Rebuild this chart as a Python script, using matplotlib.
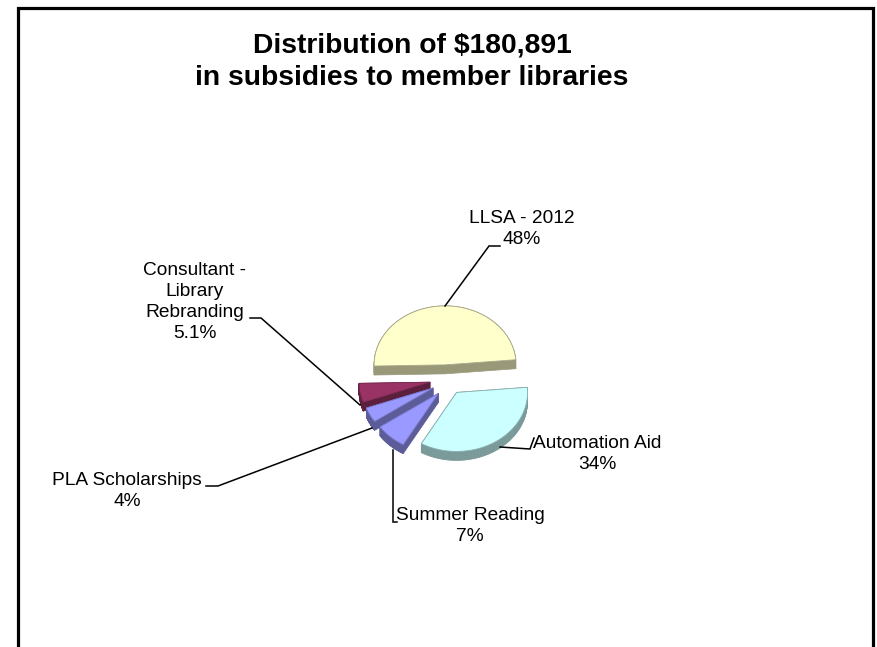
import numpy as np
import matplotlib
matplotlib.use("Agg")
import matplotlib.pyplot as plt
from matplotlib.patches import Polygon

categories = ["LLSA - 2012", "Consultant -\nLibrary\nRebranding", "PLA Scholarships", "Summer Reading", "Automation Aid"]
values = [48, 5.1, 4, 7, 34]
value_labels = ["48%", "5.1%", "4%", "7%", "34%"]

top_colors = ["#FFFFCC", "#993366", "#9999FF", "#9999FF", "#CCFFFF"]
side_colors = ["#99997A", "#5C1F3D", "#5C5C99", "#5C5C99", "#7A9999"]
edge_colors = ["#A8A88A", "#7A2952", "#7A7ACC", "#7A7ACC", "#8AB0B0"]
explode = [0.24, 0.2, 0.22, 0.24, 0.25]
nudge_x = [0, -2, 1, 4, 1]
nudge_y = [0, 1, 3, 4, 1]

CX, CY, RX, RY, DEPTH = 446, 379, 71, 59, 9
START = 5.0

label_pos = [(521.5, 229), (195, 302), (127, 491), (470, 526), (597, 454)]
leaders = [
    [(445, 306), (489, 246), (500, 246)],
    [(360, 405), (261, 318), (250, 318)],
    [(372, 428), (218, 486), (206, 486)],
    [(393, 450), (393, 522), (397, 522)],
    [(500, 447), (530, 449), (534, 438)],
]

plt.rcParams["font.family"] = ["Liberation Sans", "DejaVu Sans"]
fig = plt.figure(figsize=(8.78, 6.47), dpi=100, facecolor="white")
ax = fig.add_axes([0, 0, 1, 1])
ax.set_xlim(0, 878)
ax.set_ylim(647, 0)
ax.axis("off")

# frame, open at the bottom
ax.plot([18.5, 18.5, 873.5, 873.5], [647, 7.5, 7.5, 647], color="black", lw=2.3,
        solid_joinstyle="miter", solid_capstyle="butt")

ax.text(412, 61.5, "Distribution of \\$180,891\nin subsidies to member libraries",
        ha="center", va="center", fontsize=20.3, fontweight="bold", linespacing=1.32)

total = sum(values)
angle = START
for val, top, side, edge, exp, nx, ny in zip(values, top_colors, side_colors, edge_colors, explode, nudge_x, nudge_y):
    sweep = 360 * val / total
    mid = np.radians(angle + sweep / 2)
    ax_x = CX + exp * RX * np.cos(mid) + nx
    ax_y = CY - exp * RY * np.sin(mid) + ny
    t = np.radians(np.linspace(angle, angle + sweep, 80))
    xs = np.r_[ax_x, ax_x + RX * np.cos(t)]
    ys = np.r_[ax_y, ax_y - RY * np.sin(t)]
    for i in range(len(xs)):
        j = (i + 1) % len(xs)
        quad = [(xs[i], ys[i]), (xs[j], ys[j]), (xs[j], ys[j] + DEPTH), (xs[i], ys[i] + DEPTH)]
        ax.add_patch(Polygon(quad, closed=True, facecolor=side, edgecolor=side, lw=0.5, zorder=2))
    ax.add_patch(Polygon(np.c_[xs, ys], closed=True, facecolor=top, edgecolor=edge, lw=0.6, zorder=3))
    angle += sweep

for pts in leaders:
    p = np.array(pts)
    ax.plot(p[:, 0], p[:, 1], color="black", lw=1.1, zorder=4, solid_joinstyle="miter")

for cat, vl, (lx, ly) in zip(categories, value_labels, label_pos):
    ax.text(lx, ly, f"{cat}\n{vl}", ha="center", va="center", fontsize=13.8, linespacing=1.32, zorder=5)

fig.savefig("out.png", dpi=100)
